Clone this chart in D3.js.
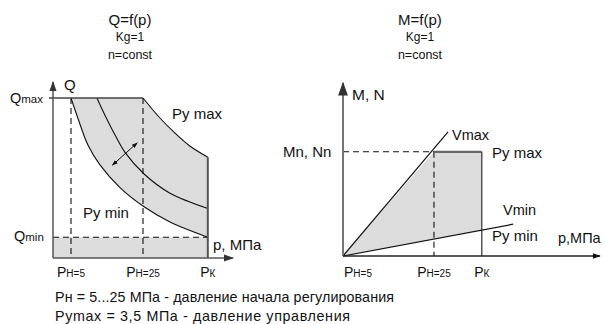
<!DOCTYPE html>
<html><head><meta charset="utf-8">
<script src="https://cdn.jsdelivr.net/npm/d3@7"></script>
<style>
html,body{margin:0;padding:0;background:#fff;}
svg{display:block;font-family:"Liberation Sans",Arial,sans-serif;}
</style></head>
<body>
<svg id="c" width="605" height="324"></svg>
<script>
// ---------- data (left chart: Q = f(p)) ----------
const leftTitle = ["Q=f(p)", "Kg=1", "n=const"];
const rightTitle = ["M=f(p)", "Kg=1", "n=const"];
const leftTicks = [{main:"P", sub:"Н=5", p:5}, {main:"P", sub:"Н=25", p:25}, {main:"P", sub:"К", p:43}];
const rightTicks = [{main:"P", sub:"Н=5", p:5}, {main:"P", sub:"Н=25", p:25}, {main:"P", sub:"К", p:35.5}];
const qMax = 1.0, qMin = 0.13, pK_left = 43;
// curves: [p, Q]
const curvePyMin = [[5,1.0],[6.9,0.875],[9.7,0.706],[13.1,0.58],[18.6,0.44],[25.3,0.32],[32.5,0.225],[43,0.13]];
const curveMid   = [[12.2,1.0],[14.4,0.894],[17.2,0.77],[20,0.66],[25.3,0.525],[32.5,0.405],[43,0.31]];
const curvePyMax = [[25,1.0],[29.7,0.875],[33.9,0.78],[38,0.70],[43,0.63]];
// ---------- data (right chart: M = f(p)) ----------
const mN = 1.0, pStart = 5, pH25 = 25, pK_right = 35.5;
const lineVmax = [[5,0],[28.1,1.19]];
const lineVmin = [[5,0],[42.4,0.305]];
const footnotes = ["Pн = 5...25 МПа - давление начала регулирования", "Pymax = 3,5 МПа - давление управления"];

const svg = d3.select("#c");
const defs = svg.append("defs");
function marker(id, color, size){
  defs.append("marker").attr("id",id).attr("viewBox","0 0 10 10").attr("refX",9).attr("refY",5)
    .attr("markerWidth",size).attr("markerHeight",size).attr("orient","auto-start-reverse")
    .append("path").attr("d","M0,1.5 L10,5 L0,8.5 Z").attr("fill",color);
}
marker("ah","#333",7);
marker("ahs","#111",6);

const FILL = "#dcdcdc", AX = "#555", DASH = "6,4";

// ---------- titles ----------
function titles(cx, t){
  svg.append("text").attr("x",cx).attr("y",25).attr("text-anchor","middle").attr("font-size",15).attr("fill","#111").text(t[0]);
  svg.append("text").attr("x",cx).attr("y",41).attr("text-anchor","middle").attr("font-size",12).attr("fill","#111").text(t[1]);
  svg.append("text").attr("x",cx).attr("y",59).attr("text-anchor","middle").attr("font-size",12.5).attr("fill","#111").text(t[2]);
}
titles(130, leftTitle);
titles(420, rightTitle);

function tickLabel(g, x, y, t, anchor){
  const tx = g.append("text").attr("x",x).attr("y",y).attr("text-anchor",anchor).attr("fill","#111");
  tx.append("tspan").attr("font-size",14).text(t.main);
  tx.append("tspan").attr("font-size",10).text(t.sub);
}

// =============== LEFT CHART ===============
{
  const x = d3.scaleLinear().domain([0,50]).range([53,233]);
  const y = d3.scaleLinear().domain([0,1.1]).range([258,82]);
  const g = svg.append("g");
  const line = d3.line().x(d=>x(d[0])).y(d=>y(d[1])).curve(d3.curveCatmullRom.alpha(0.5));

  g.append("rect").attr("x",x(0)).attr("y",y(qMin)).attr("width",x(pK_left)-x(0)).attr("height",y(0)-y(qMin)).attr("fill",FILL);
  const lowerPath = line(curvePyMin);
  const upperRev = curvePyMax.slice().reverse();
  const upperPath = line(upperRev).replace(/^M/,"L");
  g.append("path").attr("d", lowerPath + upperPath + "L" + x(5) + "," + y(qMax) + "Z").attr("fill",FILL);

  [5,25].forEach(p=>{
    g.append("line").attr("x1",x(p)).attr("x2",x(p)).attr("y1",y(qMax)).attr("y2",y(0))
      .attr("stroke","#111").attr("stroke-width",1.1).attr("stroke-dasharray",DASH);
  });
  g.append("line").attr("x1",x(0)).attr("x2",x(pK_left)).attr("y1",y(qMin)).attr("y2",y(qMin))
    .attr("stroke","#111").attr("stroke-width",1.1).attr("stroke-dasharray",DASH);

  [curvePyMin, curveMid, curvePyMax].forEach(c=>{
    g.append("path").attr("d",line(c)).attr("fill","none").attr("stroke","#111").attr("stroke-width",1.1);
  });
  g.append("line").attr("x1",x(0)-4).attr("x2",x(25)).attr("y1",y(qMax)).attr("y2",y(qMax)).attr("stroke","#444").attr("stroke-width",1.3);
  g.append("line").attr("x1",x(pK_left)).attr("x2",x(pK_left)).attr("y1",y(curvePyMax[curvePyMax.length-1][1])).attr("y2",y(0))
    .attr("stroke","#555").attr("stroke-width",2);

  g.append("line").attr("x1",x(16.5)).attr("y1",y(0.58)).attr("x2",x(23.4)).attr("y2",y(0.72))
    .attr("stroke","#111").attr("stroke-width",1).attr("marker-start","url(#ahs)").attr("marker-end","url(#ahs)");

  g.append("line").attr("x1",x(0)).attr("x2",x(0)).attr("y1",y(0)).attr("y2",y(1.1)).attr("stroke",AX).attr("stroke-width",1.5).attr("marker-end","url(#ah)");
  g.append("line").attr("x1",x(0)).attr("x2",x(50)).attr("y1",y(0)).attr("y2",y(0)).attr("stroke",AX).attr("stroke-width",1.5).attr("marker-end","url(#ah)");

  g.append("text").attr("x",64).attr("y",90).attr("font-size",15).attr("fill","#111").text("Q");
  const qm = g.append("text").attr("x",10).attr("y",103).attr("fill","#111");
  qm.append("tspan").attr("font-size",14.5).text("Q"); qm.append("tspan").attr("font-size",11.5).text("max");
  const qn = g.append("text").attr("x",14).attr("y",241).attr("fill","#111");
  qn.append("tspan").attr("font-size",14.5).text("Q"); qn.append("tspan").attr("font-size",11.5).text("min");
  g.append("text").attr("x",172).attr("y",119).attr("font-size",15).attr("fill","#111").text("Py max");
  g.append("text").attr("x",83).attr("y",218).attr("font-size",15).attr("fill","#111").text("Py min");
  g.append("text").attr("x",213).attr("y",250).attr("font-size",15).attr("fill","#111").text("p, МПа");
  leftTicks.forEach(t=>tickLabel(g, x(t.p), 277, t, "middle"));
}

// =============== RIGHT CHART ===============
{
  const x = d3.scaleLinear().domain([5,61.5]).range([343,600]);
  const y = d3.scaleLinear().domain([0,1.66]).range([256,83]);
  const g = svg.append("g");
  const vAt = p => lineVmin[0][1] + (lineVmin[1][1]-lineVmin[0][1])*(p-lineVmin[0][0])/(lineVmin[1][0]-lineVmin[0][0]);
  const poly = [[pStart,0],[pH25,mN],[pK_right,mN],[pK_right,vAt(pK_right)]];
  g.append("path").attr("d", d3.line().x(d=>x(d[0])).y(d=>y(d[1]))(poly)+"Z").attr("fill",FILL);

  g.append("line").attr("x1",x(pStart)).attr("x2",x(pH25)).attr("y1",y(mN)).attr("y2",y(mN))
    .attr("stroke","#111").attr("stroke-width",1.1).attr("stroke-dasharray",DASH);
  g.append("line").attr("x1",x(pH25)).attr("x2",x(pH25)).attr("y1",y(mN)).attr("y2",y(0))
    .attr("stroke","#111").attr("stroke-width",1.1).attr("stroke-dasharray",DASH);

  g.append("line").attr("x1",x(pH25)).attr("x2",x(pK_right)).attr("y1",y(mN)).attr("y2",y(mN)).attr("stroke","#666").attr("stroke-width",2.2);
  g.append("line").attr("x1",x(pK_right)).attr("x2",x(pK_right)).attr("y1",y(mN)).attr("y2",y(0)).attr("stroke","#555").attr("stroke-width",1.5);

  [lineVmax, lineVmin].forEach(l=>{
    g.append("line").attr("x1",x(l[0][0])).attr("y1",y(l[0][1])).attr("x2",x(l[1][0])).attr("y2",y(l[1][1]))
      .attr("stroke","#111").attr("stroke-width",1.2);
  });

  g.append("line").attr("x1",x(5)).attr("x2",x(5)).attr("y1",y(0)).attr("y2",y(1.66)).attr("stroke","#777").attr("stroke-width",2).attr("marker-end","url(#ah)");
  g.append("line").attr("x1",x(5)).attr("x2",x(61.5)).attr("y1",y(0)).attr("y2",y(0)).attr("stroke","#222").attr("stroke-width",1.3).attr("marker-end","url(#ahs)");

  g.append("text").attr("x",352).attr("y",100).attr("font-size",15.5).attr("fill","#111").text("M, N");
  g.append("text").attr("x",283).attr("y",157).attr("font-size",15).attr("fill","#111").text("Mn, Nn");
  g.append("text").attr("x",452).attr("y",140).attr("font-size",14.5).attr("fill","#111").text("Vmax");
  g.append("text").attr("x",492).attr("y",158).attr("font-size",15).attr("fill","#111").text("Py max");
  g.append("text").attr("x",503).attr("y",215).attr("font-size",14.5).attr("fill","#111").text("Vmin");
  g.append("text").attr("x",492).attr("y",241).attr("font-size",15).attr("fill","#111").text("Py min");
  g.append("text").attr("x",558).attr("y",243).attr("font-size",14.5).attr("fill","#111").text("p,МПа");
  rightTicks.forEach((t,i)=>tickLabel(g, x(t.p) + (i===0?1:0), 277, t, i===0?"start":"middle"));
}

// footnotes
svg.append("text").attr("x",55).attr("y",302).attr("font-size",14.3).attr("fill","#111")
  .attr("textLength",339).attr("lengthAdjust","spacing").text(footnotes[0]);
svg.append("text").attr("x",55).attr("y",321).attr("font-size",14.3).attr("fill","#111")
  .attr("textLength",295).attr("lengthAdjust","spacing").text(footnotes[1]);
</script>
</body></html>
